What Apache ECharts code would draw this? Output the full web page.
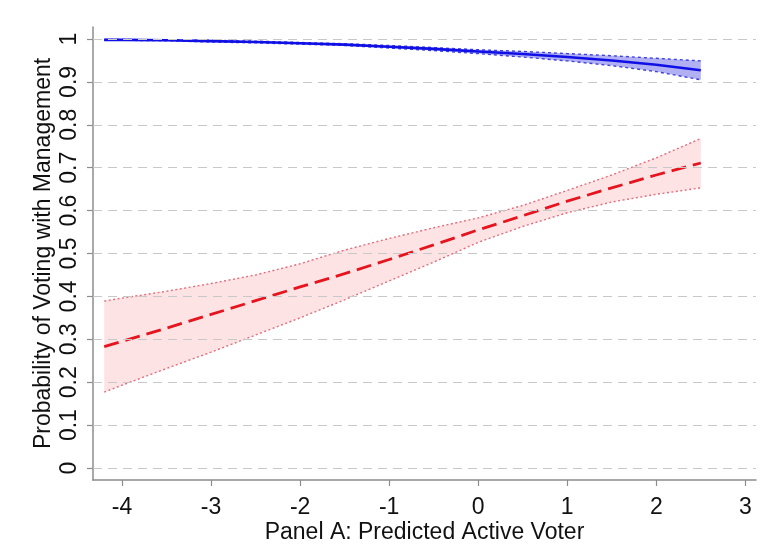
<!DOCTYPE html>
<html><head><meta charset="utf-8">
<script src="https://cdn.jsdelivr.net/npm/echarts@6/dist/echarts.min.js"></script>
<style>html,body{margin:0;padding:0;background:#fff}#c{width:765px;height:557px}</style>
</head><body><div id="c"></div>
<script>
const xVals = [-4.2,-4,-3.5,-3,-2.5,-2,-1.5,-1,-0.5,0,0.5,1,1.5,2,2.5];
const redMid = [0.283,0.295,0.326,0.358,0.390,0.422,0.453,0.486,0.520,0.555,0.588,0.622,0.653,0.683,0.711];
const redUp  = [0.389,0.396,0.412,0.430,0.450,0.476,0.508,0.535,0.560,0.583,0.612,0.647,0.683,0.723,0.768];
const redLo  = [0.177,0.193,0.232,0.270,0.310,0.350,0.392,0.436,0.480,0.526,0.563,0.595,0.620,0.638,0.653];
const blueMid = [0.998,0.998,0.997,0.995,0.993,0.990,0.987,0.982,0.977,0.971,0.965,0.958,0.950,0.940,0.927];
const blueUp  = [0.999,0.999,0.998,0.997,0.995,0.992,0.989,0.985,0.980,0.975,0.971,0.966,0.961,0.955,0.949];
const blueLo  = [0.997,0.997,0.996,0.993,0.991,0.988,0.985,0.979,0.973,0.966,0.958,0.949,0.938,0.924,0.905];
const xTicks = [-4,-3,-2,-1,0,1,2,3];
const yTicks = [0,0.1,0.2,0.3,0.4,0.5,0.6,0.7,0.8,0.9,1];
const xTitle = 'Panel A: Predicted Active Voter';
const yTitle = 'Probability of Voting with Management';

const pairs = arr => xVals.map((x,i)=>[x,arr[i]]);
const font = '"Liberation Sans", Arial, sans-serif';
const axisGray = '#8c8c8c';
const FS = 23;

function band(lo, up, fill){
  return {
    type:'custom', silent:true, z:2,
    data: xVals.map((x,i)=>[x, lo[i], up[i]]),
    encode:{x:0, y:[1,2]},
    renderItem(params, api){
      if (params.dataIndex !== 0) return null;
      const top = xVals.map((x,i)=>api.coord([x, up[i]]));
      const bot = xVals.map((x,i)=>api.coord([x, lo[i]])).reverse();
      return {type:'polygon', shape:{points: top.concat(bot)}, style:{fill, stroke:'none'}};
    }
  };
}
function edge(arr, color, type, width){
  return {type:'line', data:pairs(arr), symbol:'none', silent:true, lineStyle:{color, type, width}, z:3};
}

const chart = echarts.init(document.getElementById('c'), null, {renderer:'canvas'});
chart.setOption({
  animation:false,
  backgroundColor:'#fff',
  grid:{left:93, right:9, top:27, bottom:77, containLabel:false},
  xAxis:{
    type:'value', min:-4.326, max:3.12,
    name:xTitle, nameLocation:'middle', nameGap:41, nameMoveOverlap:false,
    nameTextStyle:{fontFamily:font, fontSize:FS, color:'#111'},
    axisLine:{onZero:false, lineStyle:{color:axisGray, width:1.5}},
    axisTick:{show:true, length:6, lineStyle:{color:axisGray, width:1.2}, customValues:xTicks},
    axisLabel:{customValues:xTicks, fontFamily:font, fontSize:FS, color:'#111', margin:16, formatter:v=>String(v)},
    splitLine:{show:false}
  },
  yAxis:{
    type:'value', min:-0.028, max:1.028,
    name:yTitle, nameLocation:'middle', nameGap:38, nameRotate:90, nameMoveOverlap:false,
    nameTextStyle:{fontFamily:font, fontSize:FS, color:'#111'},
    axisLine:{show:true, onZero:false, lineStyle:{color:axisGray, width:1.5}},
    axisTick:{show:true, length:6, lineStyle:{color:axisGray, width:1.2}, customValues:yTicks},
    axisLabel:{customValues:yTicks, rotate:90, fontFamily:font, fontSize:FS, color:'#111', margin:12, formatter:v=>String(v)},
    splitLine:{show:false}
  },
  series:[
    {type:'line', data:[], symbol:'none', silent:true, z:1,
     markLine:{silent:true, symbol:['none','none'], label:{show:false},
       lineStyle:{type:[9,6], color:'#c8c8c8', width:1.2},
       data:yTicks.map(v=>({yAxis:v}))}},
    band(redLo, redUp, '#fde3e3'),
    edge(redUp, '#e46c7c', [2,2.5], 1.4),
    edge(redLo, '#e46c7c', [2,2.5], 1.4),
    {type:'line', data:pairs(redMid), symbol:'none', silent:true, lineStyle:{color:'#e5141e', type:[15,7], width:2.8}, z:4},
    band(blueLo, blueUp, '#b0b0f3'),
    edge(blueUp, '#4040dd', [3,3], 1.4),
    edge(blueLo, '#4040dd', [3,3], 1.4),
    {type:'line', data:pairs(blueMid), symbol:'none', silent:true, lineStyle:{color:'#1010e6', width:2.6}, z:4}
  ]
});
</script></body></html>
